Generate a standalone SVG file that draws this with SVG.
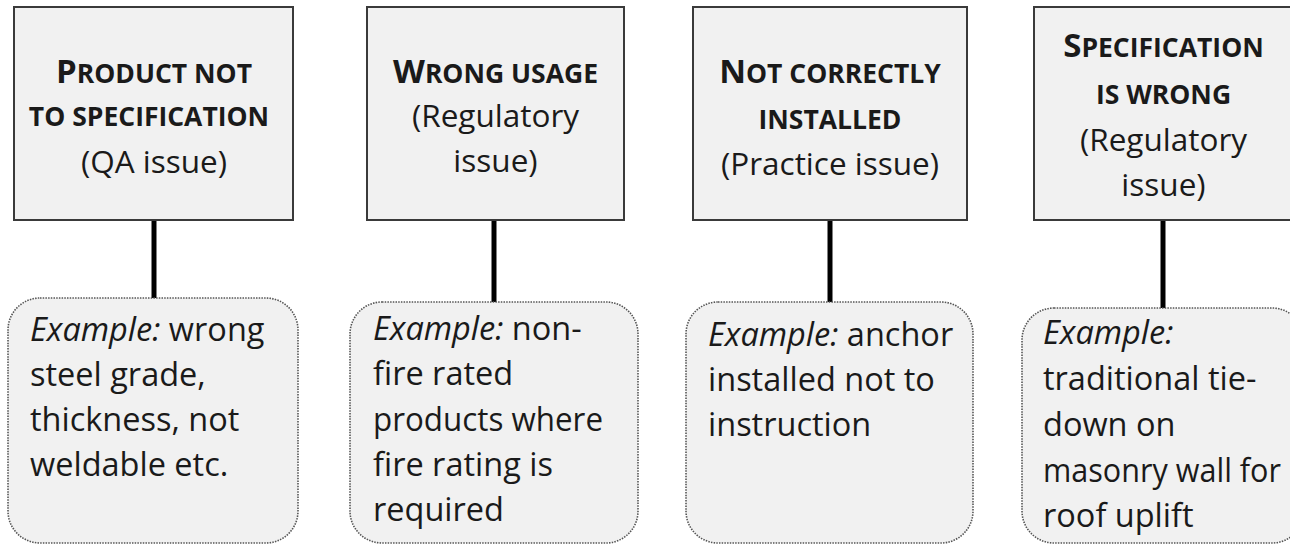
<svg xmlns="http://www.w3.org/2000/svg" width="1290" height="545" viewBox="0 0 1290 545">
  <style>
    .hd { fill: #f1f1f1; stroke: #3a3a3a; stroke-width: 2; }
    .ex { fill: #f1f1f1; stroke: #555; stroke-width: 1.6; stroke-dasharray: 1.5 1.2; }
    .conn { stroke: #000; stroke-width: 5; }
    text { font-family: "Open Sans", Lato, "Liberation Sans", sans-serif; fill: #1a1a1a; }
    .t { text-anchor: middle; }
    .b { font-weight: bold; }
    .big { font-size: 33px; }
    .sc { font-size: 26.5px; }
    .reg { font-size: 31.5px; }
    .body { font-size: 32.5px; }
    .it { font-style: italic; }
  </style>
  <rect width="1290" height="545" fill="#ffffff"/>

  <g id="connectors">
    <line class="conn" x1="154" y1="220" x2="154" y2="299"/>
    <line class="conn" x1="494" y1="220" x2="494" y2="303"/>
    <line class="conn" x1="830" y1="220" x2="830" y2="303"/>
    <line class="conn" x1="1163" y1="220" x2="1163" y2="309"/>
  </g>

  <g id="node-product">
    <rect class="hd" x="14" y="7" width="279" height="213"/>
    <text class="t b" x="154" y="83"><tspan class="big">P</tspan><tspan class="sc">RODUCT NOT</tspan></text>
    <text class="t b sc" x="149" y="126">TO SPECIFICATION</text>
    <text class="t reg" x="154" y="173">(QA issue)</text>
  </g>
  <g id="node-wrong-usage">
    <rect class="hd" x="367" y="7" width="257" height="213"/>
    <text class="t b" x="495.5" y="83"><tspan class="big">W</tspan><tspan class="sc">RONG USAGE</tspan></text>
    <text class="t reg" x="495.5" y="127">(Regulatory</text>
    <text class="t reg" x="495.5" y="172">issue)</text>
  </g>
  <g id="node-not-installed">
    <rect class="hd" x="693" y="7" width="274" height="213"/>
    <text class="t b" x="830" y="83"><tspan class="big">N</tspan><tspan class="sc">OT CORRECTLY</tspan></text>
    <text class="t b sc" x="830" y="129">INSTALLED</text>
    <text class="t reg" x="830" y="175">(Practice issue)</text>
  </g>
  <g id="node-spec-wrong">
    <rect class="hd" x="1034" y="7" width="262" height="213"/>
    <text class="t b" x="1163.5" y="57"><tspan class="big">S</tspan><tspan class="sc">PECIFICATION</tspan></text>
    <text class="t b sc" x="1163.5" y="104">IS WRONG</text>
    <text class="t reg" x="1163.5" y="151">(Regulatory</text>
    <text class="t reg" x="1163.5" y="196">issue)</text>
  </g>

  <g id="example-product">
    <rect class="ex" x="8" y="298" width="290" height="245" rx="32" ry="32"/>
    <text class="body" x="30" y="341"><tspan class="it">Example:</tspan> wrong</text>
    <text class="body" x="30" y="386">steel grade,</text>
    <text class="body" x="30" y="431">thickness, not</text>
    <text class="body" x="30" y="476">weldable etc.</text>
  </g>
  <g id="example-wrong-usage">
    <rect class="ex" x="350" y="302" width="288" height="241" rx="32" ry="32"/>
    <text class="body" x="373" y="340"><tspan class="it">Example:</tspan> non-</text>
    <text class="body" x="373" y="385">fire rated</text>
    <text class="body" x="373" y="431" textLength="230" lengthAdjust="spacingAndGlyphs">products where</text>
    <text class="body" x="373" y="476">fire rating is</text>
    <text class="body" x="373" y="521">required</text>
  </g>
  <g id="example-not-installed">
    <rect class="ex" x="686" y="302" width="287" height="241" rx="32" ry="32"/>
    <text class="body" x="708" y="346"><tspan class="it">Example:</tspan> anchor</text>
    <text class="body" x="708" y="391">installed not to</text>
    <text class="body" x="708" y="436">instruction</text>
  </g>
  <g id="example-spec-wrong">
    <rect class="ex" x="1022" y="308" width="282" height="235" rx="32" ry="32"/>
    <text class="body" x="1043" y="344"><tspan class="it">Example:</tspan></text>
    <text class="body" x="1043" y="390">traditional tie-</text>
    <text class="body" x="1043" y="436">down on</text>
    <text class="body" x="1043" y="482" textLength="238" lengthAdjust="spacingAndGlyphs">masonry wall for</text>
    <text class="body" x="1043" y="527">roof uplift</text>
  </g>
</svg>
